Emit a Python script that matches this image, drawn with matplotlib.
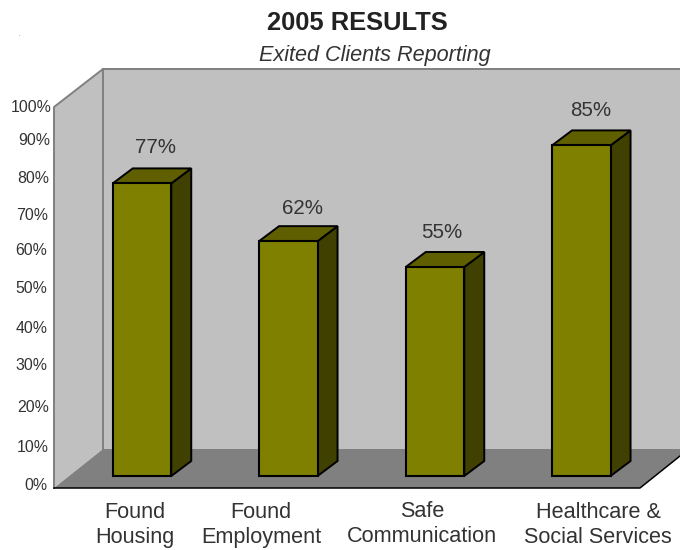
import matplotlib
matplotlib.use('Agg')
import matplotlib.pyplot as plt
from matplotlib.patches import Polygon

plt.rcParams['font.family'] = ['Liberation Sans', 'DejaVu Sans']

# Dados
categorias = ['Found\nHousing', 'Found\nEmployment', 'Safe\nCommunication', 'Healthcare &\nSocial Services']
alturas = [77, 61.8, 55, 87]  # altura desenhada das barras
rotulos = ['77%', '62%', '55%', '85%']
ticks = ['100%', '90%', '80%', '70%', '60%', '50%', '40%', '30%', '20%', '10%', '0%']

# Layout (pixels da figura)
W, H = 680, 550
BASE = 476
ESCALA = 3.8
centros = [142, 288.3, 435, 581.3]
larg = 58.5
dx, dy = 20, 15 / ESCALA
ticks_xy = [(51.5, 107), (50.5, 140), (49.5, 178), (48.5, 215), (47.5, 250), (47.5, 288),
            (47.5, 328), (47.5, 365), (49.5, 408), (48.5, 447), (47.5, 485)]
rotulos_xy = [(156, 147), (302.5, 208), (442, 232), (590.5, 110)]
cat_xy = [(135, 525), (261, 525), (422, 524), (598, 525)]


def v(py):
    # pixel vertical -> valor do eixo
    return (BASE - py) / ESCALA


fig = plt.figure(figsize=(W / 100, H / 100), dpi=100)
ax = fig.add_axes([0, 0, 1, 1])
ax.set_xlim(0, W)
ax.set_ylim(v(H), v(0))
ax.axis('off')

# Paredes e chao
cinza = '#808080'
ax.add_patch(Polygon([(103, v(69)), (680, v(69)), (680, v(449)), (103, v(449))], fc='#c0c0c0', ec='none', zorder=1))
ax.add_patch(Polygon([(54, v(107)), (103, v(69)), (103, v(449)), (54, v(488))], fc='#c0c0c0', ec='none', zorder=1))
ax.add_patch(Polygon([(54, v(488)), (103, v(449)), (680, v(449)), (680, v(456)), (640, v(488))], fc=cinza, ec='none', zorder=1))
ax.plot([54, 54, 103, 680], [v(488), v(107), v(69), v(69)], color=cinza, lw=1.4, zorder=2)
ax.plot([103, 103], [v(69), v(449)], color=cinza, lw=1.4, zorder=2)
ax.plot([54, 640, 680], [v(488), v(488), v(456)], color='black', lw=1.1, zorder=2)

# Barras
for c, a in zip(centros, alturas):
    x0, x1 = c - larg / 2, c + larg / 2
    ax.add_patch(Polygon([(x1, 0), (x1 + dx, dy), (x1 + dx, a + dy), (x1, a)], fc='#404000', ec='black', lw=1.4, zorder=3))
    ax.add_patch(Polygon([(x0, a), (x0 + dx, a + dy), (x1 + dx, a + dy), (x1, a)], fc='#5f5f00', ec='black', lw=1.4, zorder=3))
ax.bar(centros, alturas, width=larg, color='#808000', edgecolor='black', linewidth=1.5, zorder=4)

# Textos
cor = '#333333'
ax.text(357, v(23), '2005 RESULTS', ha='center', va='center', fontsize=18.4, fontweight='bold', color='#222222')
ax.text(375, v(55), 'Exited Clients Reporting', ha='center', va='center', fontsize=15.6, style='italic', color=cor)
ax.text(19, v(36), '.', ha='center', va='baseline', fontsize=4, color=cor)

for t, (x, y) in zip(ticks, ticks_xy):
    ax.text(x, v(y), t, ha='right', va='center', fontsize=11.4, color=cor)
for t, (x, y) in zip(rotulos, rotulos_xy):
    ax.text(x, v(y), t, ha='center', va='center', fontsize=14.8, color=cor, zorder=5)
for t, (x, y) in zip(categorias, cat_xy):
    ax.text(x, v(y), t, ha='center', va='center', fontsize=15.6, color=cor, linespacing=1.25)

plt.savefig('out.png', dpi=100)
